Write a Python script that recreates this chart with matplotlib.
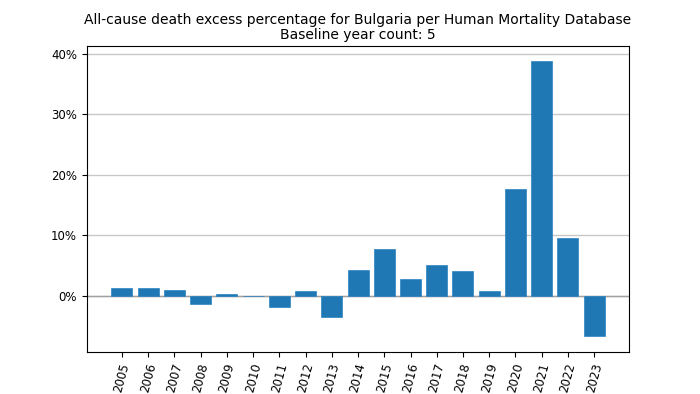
import numpy as np
from matplotlib import pyplot as plt
from matplotlib.ticker import PercentFormatter

years = list(range(2005, 2024))
excess = [1.3, 1.3, 0.9, -1.4, 0.2, -0.1, -1.8, 0.7, -3.6, 4.3,
          7.8, 2.8, 5.1, 4.0, 0.7, 17.6, 38.8, 9.6, -6.6]

fig, ax = plt.subplots(figsize=(7, 3.94), dpi=100)
fig.subplots_adjust(left=0.124, right=0.899, top=0.883, bottom=0.107)

ax.bar(years, excess, width=0.8, color='#1f77b4', edgecolor='#2a82c0', linewidth=0.5, zorder=3)
ax.axhline(0, color='#a0a0a0', linewidth=1, zorder=2)
ax.yaxis.grid(True, color='#c8c8c8', linewidth=1, zorder=0)
ax.set_xticks(years)
ax.set_xticklabels([str(y) for y in years], rotation=75)
ax.tick_params(labelsize=8.5)
ax.yaxis.set_major_formatter(PercentFormatter(decimals=0))
ax.set_yticks([0, 10, 20, 30, 40])
ax.set_ylim(-9.3, 41.3)
ax.set_title("All-cause death excess percentage for Bulgaria per Human Mortality Database\nBaseline year count: 5",
             fontsize=10, linespacing=1.15, pad=5)

plt.savefig('out.png')
